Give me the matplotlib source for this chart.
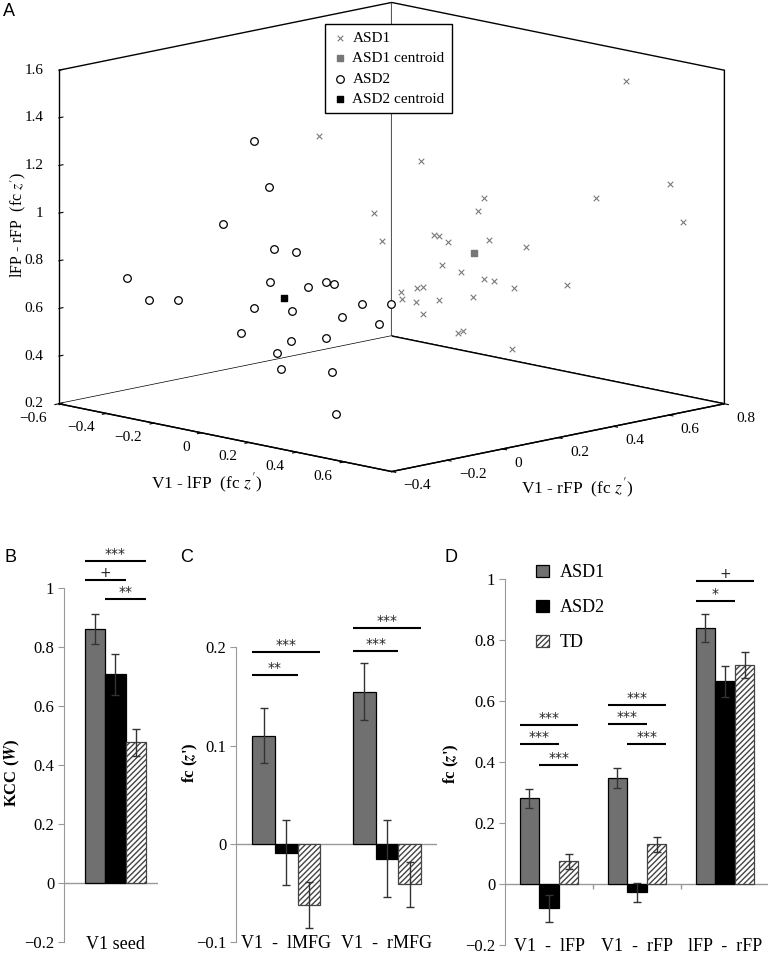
import numpy as np
import matplotlib
matplotlib.use("Agg")
import matplotlib.pyplot as plt
from matplotlib.ticker import FuncFormatter

plt.rcParams['font.family'] = ['Liberation Serif', 'DejaVu Serif']
plt.rcParams['mathtext.fontset'] = 'stix'

# panel A : fc z' of each subject (V1-lFP, V1-rFP, lFP-rFP)
asd1_lfp = [-0.123, 0.593, 0.196, 0.027, 0.755, 0.460, 0.295, 0.353, 0.678, 0.149, 0.118,
            0.234, 0.220, 0.271, 0.453, 0.170, 0.280, 0.223, 0.386, 0.358, 0.435, 0.154,
            0.083, 0.237, 0.086, 0.152, 0.269, 0.235, 0.200, 0.169, 0.319, 0.354]
asd1_rfp = [0.129, 0.623, 0.222, 0.198, 0.642, 0.629, 0.367, 0.296, 0.755, 0.122, 0.336,
            0.255, 0.302, 0.406, 0.383, 0.320, 0.294, 0.426, 0.325, 0.421, 0.547, 0.186,
            0.305, 0.197, 0.248, 0.245, 0.225, 0.376, 0.226, 0.379, 0.268, 0.418]
asd1_lr = [1.295, 1.554, 1.233, 0.987, 1.151, 1.036, 1.064, 1.038, 0.950, 0.913, 0.881,
           0.920, 0.880, 0.875, 0.887, 0.770, 0.769, 0.697, 0.745, 0.688, 0.686, 0.685,
           0.659, 0.720, 0.627, 0.625, 0.666, 0.632, 0.589, 0.467, 0.532, 0.428]

asd2_lfp = [-0.120, -0.158, -0.150, -0.183, -0.067, -0.421, -0.086, -0.146, -0.039, 0.083,
            -0.340, -0.384, -0.155, -0.040, 0.037, 0.133, 0.065, 0.038, -0.112, -0.112,
            0.031, -0.106, -0.063, -0.026, 0.157]
asd2_rfp = [-0.108, -0.021, -0.194, 0.018, -0.003, -0.307, -0.080, 0.109, 0.081, 0.006,
            -0.297, -0.155, -0.078, -0.040, 0.146, 0.168, 0.050, 0.207, -0.162, 0.018,
            0.021, -0.037, -0.060, 0.092, -0.051]
asd2_lr = [1.331, 1.110, 0.998, 0.837, 0.852, 0.744, 0.741, 0.663, 0.713, 0.747, 0.666,
           0.623, 0.614, 0.616, 0.620, 0.635, 0.591, 0.519, 0.538, 0.462, 0.503, 0.426,
           0.373, 0.332, 0.227]

# panel B : KCC
kcc_mean = [0.862, 0.708, 0.478]
kcc_err = [0.050, 0.070, 0.045]

# panel C : V1 - MFG
mfg_labels = ['V1  -  lMFG', 'V1  -  rMFG']
mfg_asd1 = [0.110, 0.155]
mfg_asd2 = [-0.009, -0.015]
mfg_td = [-0.062, -0.041]
mfg_asd1_err = [0.028, 0.029]
mfg_asd2_err = [0.033, 0.039]
mfg_td_err = [0.023, 0.023]

# panel D : V1 / FP
fp_labels = ['V1  -  lFP', 'V1  -  rFP', 'lFP  -  rFP']
fp_asd1 = [0.282, 0.348, 0.841]
fp_asd2 = [-0.079, -0.027, 0.665]
fp_td = [0.075, 0.130, 0.719]
fp_asd1_err = [0.031, 0.032, 0.046]
fp_asd2_err = [0.044, 0.031, 0.051]
fp_td_err = [0.025, 0.025, 0.042]

groups = ['ASD1', 'ASD2', 'TD']

# significance bars: (category, first bar, last bar, height, label)
sig_b = [(0, 0, 2, 1.093, '***'), (0, 0, 1, 1.028, '+'), (0, 1, 2, 0.963, '**')]
sig_c = [(0, 0, 2, 0.195, '***'), (0, 0, 1, 0.172, '**'),
         (1, 0, 2, 0.220, '***'), (1, 0, 1, 0.196, '***')]
sig_d = [(0, 0, 2, 0.523, '***'), (0, 0, 1, 0.458, '***'), (0, 1, 2, 0.392, '***'),
         (1, 0, 2, 0.588, '***'), (1, 0, 1, 0.525, '***'), (1, 1, 2, 0.458, '***'),
         (2, 0, 2, 0.996, '+'), (2, 0, 1, 0.930, '*')]

W, H = 768, 955
fig = plt.figure(figsize=(W / 100, H / 100), dpi=100)


def px_axes(x0, y0, x1, y1, **kw):
    return fig.add_axes([x0 / W, 1 - y1 / H, (x1 - x0) / W, (y1 - y0) / H], **kw)


fmt = FuncFormatter(lambda v, p: f"{v:g}".replace('-', '\u2212'))

# ---------------- A ----------------
ax3 = fig.add_axes([1.2 / W, 0.5 - 4.7 / H, 1.0, 0.5], projection='3d', proj_type='ortho')
ax3.view_init(elev=11.75, azim=-45)
ax3.set_box_aspect((1, 1, 0.724), zoom=1.52)

pts = [
    ax3.scatter(asd1_lfp, asd1_rfp, asd1_lr, marker='x', s=16, c='#7a7a7a',
                linewidths=0.8, depthshade=False, label='ASD1'),
    ax3.scatter([np.mean(asd1_lfp)], [np.mean(asd1_rfp)], [np.mean(asd1_lr)], marker='s',
                s=22, c='#777777', depthshade=False, label='ASD1 centroid'),
    ax3.scatter(asd2_lfp, asd2_rfp, asd2_lr, marker='o', s=30, facecolors='white',
                edgecolors='k', linewidths=0.9, depthshade=False, label='ASD2'),
    ax3.scatter([np.mean(asd2_lfp)], [np.mean(asd2_rfp)], [np.mean(asd2_lr)], marker='s',
                s=22, c='k', depthshade=False, label='ASD2 centroid'),
]
# the 3d axes box is square, the projected cube is wider than it
for p in pts:
    p.set_clip_on(False)

ax3.set_xlim(-0.6, 0.8)
ax3.set_ylim(-0.4, 0.8)
ax3.set_zlim(0.2, 1.6)
ax3.set_xticks(np.arange(-0.6, 0.61, 0.2).round(1))
ax3.set_yticks(np.arange(-0.4, 0.81, 0.2).round(1))
ax3.set_zticks(np.arange(0.2, 1.61, 0.2).round(1))
ax3.grid(False)
for axis in (ax3.xaxis, ax3.yaxis, ax3.zaxis):
    axis.set_pane_color((1, 1, 1, 1))
    axis.pane.set_edgecolor('k')
    axis.pane.set_linewidth(1.0)
    axis.line.set_color('k')
    axis.line.set_linewidth(1.0)
    axis.set_major_formatter(fmt)
    axis._axinfo['tick']['inward_factor'] = 0.15
    axis._axinfo['tick']['outward_factor'] = 0.0
    axis._axinfo['tick']['color'] = 'k'
ax3.zaxis._axinfo['tick']['inward_factor'] = 0.0
ax3.zaxis._axinfo['tick']['outward_factor'] = 0.15
ax3.zaxis.set_ticks_position('lower')
ax3.tick_params(labelsize=11)
ax3.tick_params(axis='x', pad=-1.6)
ax3.tick_params(axis='y', pad=-1.6)
ax3.tick_params(axis='z', pad=-3.8)
for axis, ha in ((ax3.xaxis, 'right'), (ax3.yaxis, 'left'), (ax3.zaxis, 'right')):
    for lbl in axis.get_ticklabels():
        lbl.set_ha(ha)
        lbl.set_va('center')

ax3.text2D(207 / W, 1 - 483 / H, "V1 - lFP  (fc $z'$)", transform=fig.transFigure,
           ha='center', va='center', fontsize=12.5)
ax3.text2D(577 / W, 1 - 488 / H, "V1 - rFP  (fc $z'$)", transform=fig.transFigure,
           ha='center', va='center', fontsize=12.5)
ax3.text2D(18 / W, 1 - 225 / H, "lFP - rFP  (fc $z'$)", transform=fig.transFigure,
           ha='center', va='center', fontsize=11.5, rotation=90)
ax3.legend(loc='upper left', bbox_to_anchor=(325 / W, 1 - 24 / H),
           bbox_transform=fig.transFigure, fancybox=False, edgecolor='k',
           framealpha=1, fontsize=11, handlelength=1.0, handletextpad=0.35,
           labelspacing=0.45, borderpad=0.45, borderaxespad=0, scatterpoints=1)


# ---------------- bars ----------------
def bar_panel(ax, means, errs, width, labels, sigs, ylim, yticks):
    colors = ['#707070', 'k', 'white']
    hatches = [None, None, '//////']
    n = len(means[0])
    x = np.arange(n)
    for k in range(3):
        ax.bar(x + (k - 1) * width, means[k], width, yerr=errs[k], color=colors[k],
               edgecolor='k' if k < 2 else '#444444', hatch=hatches[k], linewidth=0.9,
               label=groups[k],
               error_kw=dict(ecolor='#333333', elinewidth=1.0, capsize=3, capthick=1.0))
    ax.axhline(0, color='#999999', lw=1.0, zorder=0.5)
    for cat, i, j, y, lab in sigs:
        xl = cat + (i - 1) * width - width / 2
        xr = cat + (j - 1) * width + width / 2
        ax.plot([xl, xr], [y, y], color='k', lw=1.5, clip_on=False, solid_capstyle='butt')
        ax.text((xl + xr) / 2, y, lab, ha='center', va='bottom', fontsize=10,
                family='DejaVu Sans', color='#222222', clip_on=False)
    ax.set_ylim(*ylim)
    ax.set_yticks(yticks)
    ax.yaxis.set_major_formatter(fmt)
    ax.set_xticks([])
    for xi, lab in zip(x, labels):
        ax.text(xi, -0.005, lab, transform=ax.get_xaxis_transform(), ha='center',
                va='center', fontsize=13)
    ax.tick_params(axis='y', length=4, color='#999999', labelsize=12, pad=3)
    for s in ('top', 'right', 'bottom'):
        ax.spines[s].set_visible(False)
    ax.spines['left'].set_color('#999999')
    ax.patch.set_alpha(0)


axB = px_axes(64, 588.3, 158.3, 942.3)
bar_panel(axB, [[kcc_mean[0]], [kcc_mean[1]], [kcc_mean[2]]],
          [[kcc_err[0]], [kcc_err[1]], [kcc_err[2]]], 0.22, ['V1 seed'], sig_b,
          (-0.2, 1.0), np.arange(-0.2, 1.01, 0.2).round(1))
axB.set_xlim(-0.558, 0.464)
axB.set_ylabel(r"KCC ($\mathbfit{W}$)", fontsize=12, fontweight='bold')
axB.yaxis.set_label_coords(-0.45, 0.48)

axC = px_axes(236, 647.3, 437.3, 942.3)
bar_panel(axC, [mfg_asd1, mfg_asd2, mfg_td], [mfg_asd1_err, mfg_asd2_err, mfg_td_err],
          0.226, mfg_labels, sig_c, (-0.1, 0.2), [-0.1, 0, 0.1, 0.2])
axC.set_xlim(-0.5, 1.5)
axC.set_ylabel(r"fc ($\mathbfit{z}$')", fontsize=12, fontweight='bold')
axC.yaxis.set_label_coords(-0.177, 0.61)

axD = px_axes(505, 579.3, 769, 945)
bar_panel(axD, [fp_asd1, fp_asd2, fp_td], [fp_asd1_err, fp_asd2_err, fp_td_err],
          0.222, fp_labels, sig_d, (-0.2, 1.0), np.arange(-0.2, 1.01, 0.2).round(1))
axD.set_xlim(-0.5, 2.5)
axD.vlines([0.5, 1.5], -0.015, 0, color='#999999', lw=1.0)
axD.set_ylabel(r"fc ($\mathbfit{z}$')", fontsize=12, fontweight='bold')
axD.yaxis.set_label_coords(-0.165, 0.497)
axD.legend(loc='upper left', bbox_to_anchor=(520 / W, 1 - 548 / H),
           bbox_transform=fig.transFigure, frameon=False, fontsize=13,
           handlelength=0.7, handleheight=0.7, handletextpad=0.6, labelspacing=1.0)

for lab, xp, yp in [('A', 3, 11), ('B', 5, 558), ('C', 180, 558), ('D', 445, 558)]:
    fig.text(xp / W, 1 - yp / H, lab, family='Liberation Sans', fontsize=13,
             ha='left', va='center')

fig.savefig('out.png', dpi=100)
